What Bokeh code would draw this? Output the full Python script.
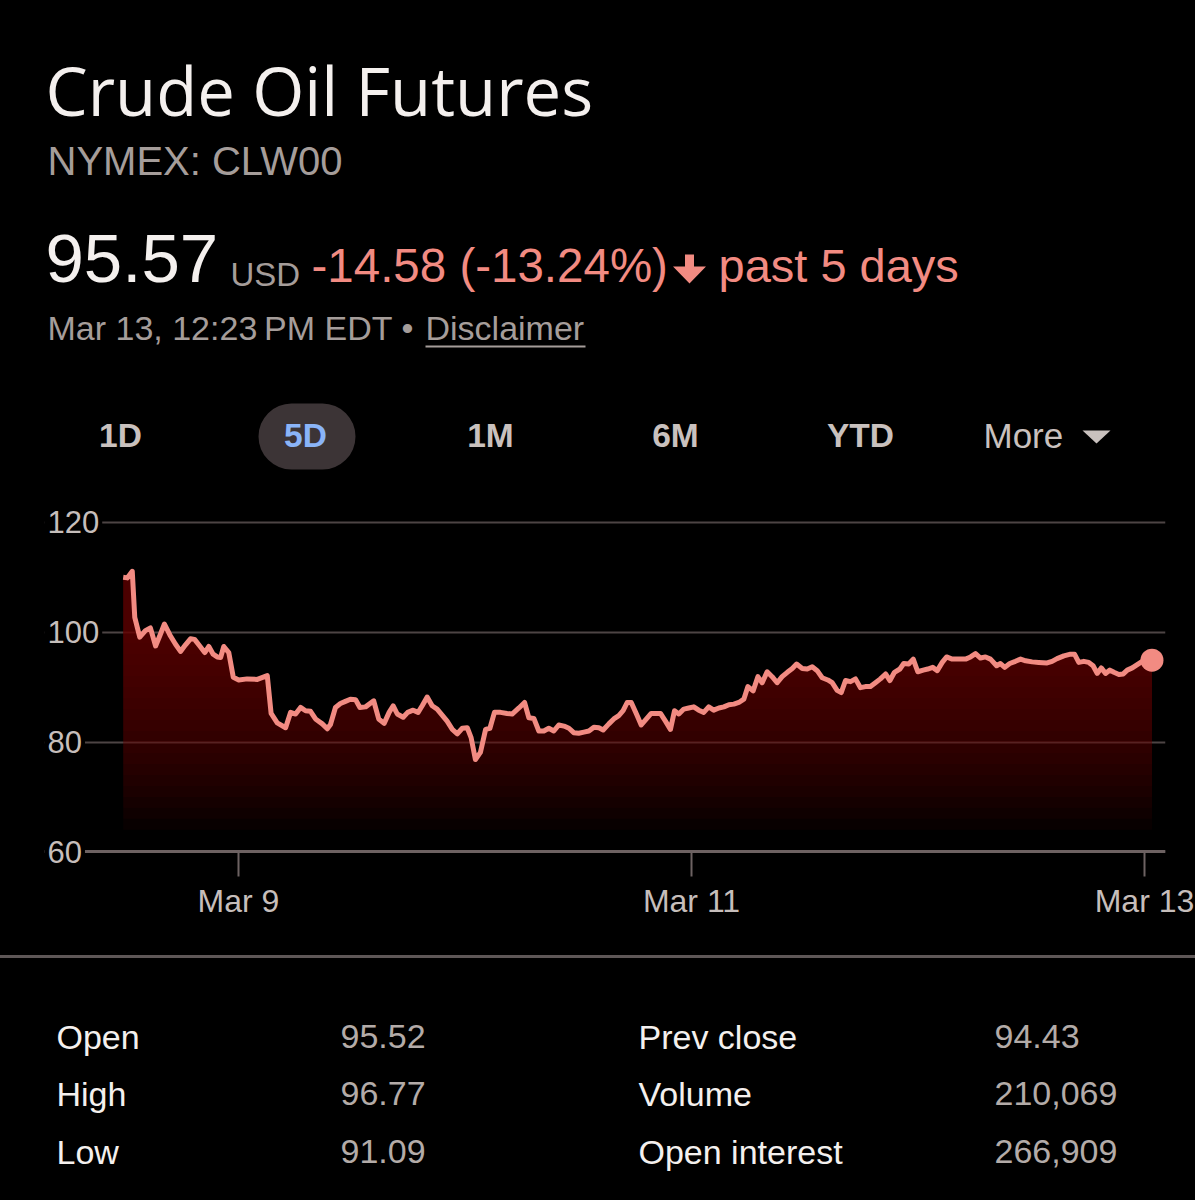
import numpy as np
from bokeh.plotting import figure
from bokeh.models import Range1d, FixedTicker, Grid, Div
from bokeh.layouts import column
from bokeh.core.properties import value
from bokeh.embed import file_html
from bokeh.resources import INLINE

# ---------------- data ----------------
TITLE = "Crude Oil Futures"
SUBTITLE = "NYMEX: CLW00"
PRICE = "95.57"
CURRENCY = "USD"
CHANGE = "-14.58 (-13.24%)"
PERIOD = "past 5 days"
TIMESTAMP = "Mar 13, 12:23\u2009PM EDT \u2022"
DISCLAIMER = "Disclaimer"
TABS = ["1D", "5D", "1M", "6M", "YTD"]
MORE = "More"

# time in days of March, price in USD
DAYS = [8.491, 8.509, 8.531, 8.542, 8.564, 8.589, 8.611, 8.634, 8.653, 8.673,
        8.697, 8.722, 8.744, 8.766, 8.788, 8.806, 8.829, 8.851, 8.869, 8.888,
        8.906, 8.921, 8.935, 8.957, 8.977, 9.001, 9.038, 9.083, 9.127, 9.144,
        9.171, 9.208, 9.230, 9.252, 9.274, 9.296, 9.318, 9.340, 9.370, 9.392,
        9.406, 9.428, 9.450, 9.472, 9.494, 9.517, 9.536, 9.561, 9.597, 9.619,
        9.643, 9.665, 9.683, 9.701, 9.727, 9.747, 9.771, 9.793, 9.811, 9.833,
        9.855, 9.877, 9.899, 9.921, 9.944, 9.966, 9.988, 10.010, 10.027, 10.046,
        10.068, 10.091, 10.110, 10.130, 10.157, 10.186, 10.208, 10.238, 10.263, 10.282,
        10.304, 10.326, 10.348, 10.370, 10.392, 10.414, 10.437, 10.459, 10.480, 10.502,
        10.525, 10.547, 10.569, 10.591, 10.610, 10.635, 10.657, 10.679, 10.698, 10.716,
        10.734, 10.757, 10.778, 10.801, 10.822, 10.841, 10.863, 10.885, 10.907, 10.925,
        10.944, 10.966, 10.988, 11.010, 11.032, 11.054, 11.076, 11.098, 11.121, 11.143,
        11.165, 11.187, 11.209, 11.231, 11.249, 11.272, 11.293, 11.312, 11.334, 11.356,
        11.378, 11.400, 11.423, 11.445, 11.464, 11.489, 11.511, 11.533, 11.555, 11.577,
        11.602, 11.621, 11.643, 11.661, 11.680, 11.702, 11.724, 11.746, 11.768, 11.790,
        11.812, 11.834, 11.857, 11.876, 11.896, 11.920, 11.937, 11.959, 11.979, 11.999,
        12.023, 12.043, 12.065, 12.085, 12.107, 12.126, 12.151, 12.180, 12.210, 12.232,
        12.254, 12.276, 12.298, 12.320, 12.347, 12.364, 12.383, 12.405, 12.430, 12.453,
        12.475, 12.504, 12.533, 12.570, 12.592, 12.614, 12.644, 12.673, 12.691, 12.710,
        12.732, 12.754, 12.773, 12.791, 12.809, 12.828, 12.847, 12.865, 12.887, 12.906,
        12.924, 12.946, 12.968, 12.990, 13.009, 13.033]
PRICES = [110.0, 109.9, 111.1, 102.7, 99.1, 100.3, 100.8, 97.5, 99.4, 101.5,
          99.5, 97.8, 96.5, 97.7, 98.8, 98.7, 97.5, 96.3, 97.4, 96.0,
          95.5, 95.4, 97.4, 96.3, 91.8, 91.3, 91.5, 91.4, 92.1, 85.2,
          83.5, 82.6, 85.4, 85.1, 86.3, 85.7, 85.6, 84.2, 83.3, 82.4,
          83.2, 86.3, 87.0, 87.4, 87.8, 87.7, 86.3, 86.4, 87.5, 84.2,
          83.4, 85.4, 86.6, 85.1, 84.5, 85.4, 85.8, 85.4, 86.6, 88.2,
          86.6, 86.0, 84.9, 83.8, 82.3, 81.5, 82.5, 82.6, 80.8, 76.8,
          78.1, 82.3, 82.5, 85.4, 85.4, 85.2, 85.1, 86.2, 87.2, 84.4,
          84.3, 82.0, 82.0, 82.5, 82.0, 83.1, 82.9, 82.5, 81.7, 81.6,
          81.8, 82.0, 82.7, 82.6, 82.2, 83.3, 84.2, 84.8, 85.7, 87.2,
          87.2, 85.1, 83.1, 84.2, 85.2, 85.2, 85.2, 83.8, 82.3, 85.7,
          85.1, 86.0, 86.2, 86.4, 85.8, 85.4, 86.4, 85.8, 86.2, 86.4,
          86.8, 86.9, 87.2, 87.8, 90.1, 89.3, 91.9, 90.8, 92.8, 91.9,
          90.8, 91.9, 92.7, 93.4, 94.2, 93.4, 93.3, 93.7, 93.0, 91.7,
          91.3, 90.8, 89.4, 89.0, 91.2, 91.0, 91.5, 89.9, 90.1, 90.1,
          90.8, 91.5, 92.4, 91.2, 92.7, 93.3, 94.3, 94.2, 95.1, 92.8,
          93.1, 93.3, 93.6, 93.0, 94.5, 95.5, 95.1, 95.1, 95.1, 95.5,
          96.1, 95.3, 95.5, 95.1, 93.9, 94.3, 93.6, 94.3, 94.7, 95.1,
          94.8, 94.6, 94.5, 94.4, 94.7, 95.2, 95.7, 96.0, 96.0, 94.5,
          94.7, 94.5, 93.9, 92.5, 93.5, 92.5, 93.1, 92.7, 92.3, 92.4,
          93.1, 93.5, 94.1, 94.7, 95.1, 94.9]

Y_TICKS = [60, 80, 100, 120]
X_TICKS = [9, 11, 13]
X_TICK_LABELS = ["Mar 9", "Mar 11", "Mar 13"]

STAT_NAMES_L = ["Open", "High", "Low"]
STAT_VALUES_L = ["95.52", "96.77", "91.09"]
STAT_NAMES_R = ["Prev close", "Volume", "Open interest"]
STAT_VALUES_R = ["94.43", "210,069", "266,909"]

# ---------------- style ----------------
W = 1195
L, R = 44, 30          # shared left / right borders (frames are aligned in the column)
BG = "#000000"
WHITE = "#f4f0ee"
GREY = "#a59d9a"
TAB_GREY = "#c9c1be"
SALMON = "#f28b82"
BLUE = "#8ab4f8"
SANS = value("Liberation Sans")


def blank(h, fill=BG):
    p = figure(width=W, height=h, x_range=Range1d(L, W - R), y_range=Range1d(h, 0),
               output_backend="svg", toolbar_location=None,
               x_axis_location=None, y_axis_location=None,
               min_border_left=L, min_border_right=R, min_border_top=0, min_border_bottom=0)
    p.grid.visible = False
    p.background_fill_color = fill
    p.border_fill_color = fill
    p.outline_line_color = None
    return p


def txt(p, x, y, s, size, color, font=SANS, align="left", style="normal"):
    p.text(x=[x], y=[y], text=[s], text_font=font, text_font_size=size,
           text_color=color, text_align=align, text_baseline="middle",
           text_font_style=style)


# ---------------- header ----------------
head = blank(490)
txt(head, 45, 89, TITLE, "67px", WHITE, font=value("Open Sans"))
txt(head, 47, 160, SUBTITLE, "40px", GREY)
txt(head, 45, 258, PRICE, "69px", WHITE)
txt(head, 230, 274, CURRENCY, "33px", GREY)
txt(head, 311, 265, CHANGE, "47.5px", SALMON)
# down arrow icon
head.patch(x=[684.5, 693.5, 693.5, 705.5, 689, 672.5, 684.5],
           y=[254, 254, 266, 266, 283, 266, 266], fill_color=SALMON, line_color=None)
txt(head, 718, 265, PERIOD, "47px", SALMON)
txt(head, 47, 327, TIMESTAMP, "34px", GREY)
txt(head, 425, 327, DISCLAIMER, "34px", GREY)
head.segment(x0=[425], y0=[346], x1=[585], y1=[346], line_color=GREY, line_width=2)

# tabs
head.quad(left=[258], right=[355], top=[403], bottom=[469], border_radius=33,
          fill_color="#3c3436", line_color=None)
tab_x = [120 + 185 * i for i in range(len(TABS))]
tab_colors = [BLUE if t == "5D" else TAB_GREY for t in TABS]
head.text(x=tab_x, y=[435] * len(TABS), text=TABS, text_font=SANS,
          text_font_style="bold", text_font_size="33.5px", text_color=tab_colors,
          text_align="center", text_baseline="middle")
txt(head, 983, 435, MORE, "35px", TAB_GREY)
head.patch(x=[1082, 1110, 1096], y=[430, 430, 443], fill_color=TAB_GREY, line_color=None)

# ---------------- chart ----------------
PX_PER_DAY = 226.5
XS = 9 + (L - 238) / PX_PER_DAY
XE = 9 + (W - R - 238) / PX_PER_DAY
chart = figure(width=W, height=465, x_range=Range1d(XS, XE), y_range=Range1d(57.5, 124.0),
               output_backend="svg", toolbar_location=None, y_axis_location=None,
               min_border_left=L, min_border_right=R, min_border_top=10,
               min_border_bottom=90)
chart.background_fill_color = BG
chart.border_fill_color = BG
chart.outline_line_color = None
chart.xgrid.visible = False
chart.ygrid.ticker = FixedTicker(ticks=Y_TICKS)
chart.ygrid.grid_line_color = "#4d4444"
chart.ygrid.grid_line_width = 2
base = Grid(dimension=1, ticker=FixedTicker(ticks=Y_TICKS[:1]),
            grid_line_color="#6d6262", grid_line_width=3)
chart.add_layout(base)

x = np.array(DAYS)
y = np.array(PRICES)
# vertical gradient fill built from stacked translucent layers
for b in np.arange(64, 100, 2.0):
    chart.varea(x=x, y1=np.minimum(b, y), y2=y, fill_color="#6e0000", fill_alpha=0.075)
chart.line(x, y, line_color=SALMON, line_width=5, line_join="round")
chart.scatter(x=[DAYS[-1]], y=[PRICES[-1]], size=23, fill_color=SALMON, line_color=None)

chart.text(x=XS, y=Y_TICKS, text=[str(v) for v in Y_TICKS], text_font=SANS,
           text_font_size="31px", text_color="#c6bebb", text_align="left",
           text_baseline="middle", background_fill_color=BG, padding=3)

ax = chart.xaxis[0]
ax.ticker = FixedTicker(ticks=X_TICKS)
ax.major_label_overrides = dict(zip(X_TICKS, X_TICK_LABELS))
ax.axis_line_color = None
ax.major_tick_line_color = "#6d6262"
ax.major_tick_line_width = 2
ax.major_tick_in = 14
ax.major_tick_out = 11
ax.minor_tick_line_color = None
ax.major_label_text_font = "Liberation Sans"
ax.major_label_text_font_size = "32px"
ax.major_label_text_color = "#c6bebb"
ax.major_label_standoff = 6

# ---------------- separator + stats ----------------
sep = Div(text="", width=W, height=3, margin=0,
          styles={"background-color": "#5e5757"})

stats = blank(242)
rows = [78, 135, 193]
for xs, labels, col in [(56, STAT_NAMES_L, WHITE), (340, STAT_VALUES_L, "#b3aba8"),
                        (638, STAT_NAMES_R, WHITE), (994, STAT_VALUES_R, "#b3aba8")]:
    stats.text(x=[xs] * 3, y=rows, text=labels, text_font=SANS, text_font_size="34px",
               text_color=col, text_baseline="middle")

layout = column(head, chart, sep, stats, spacing=0, styles={"background-color": BG})
open("out.html", "w").write(file_html(layout, INLINE))
